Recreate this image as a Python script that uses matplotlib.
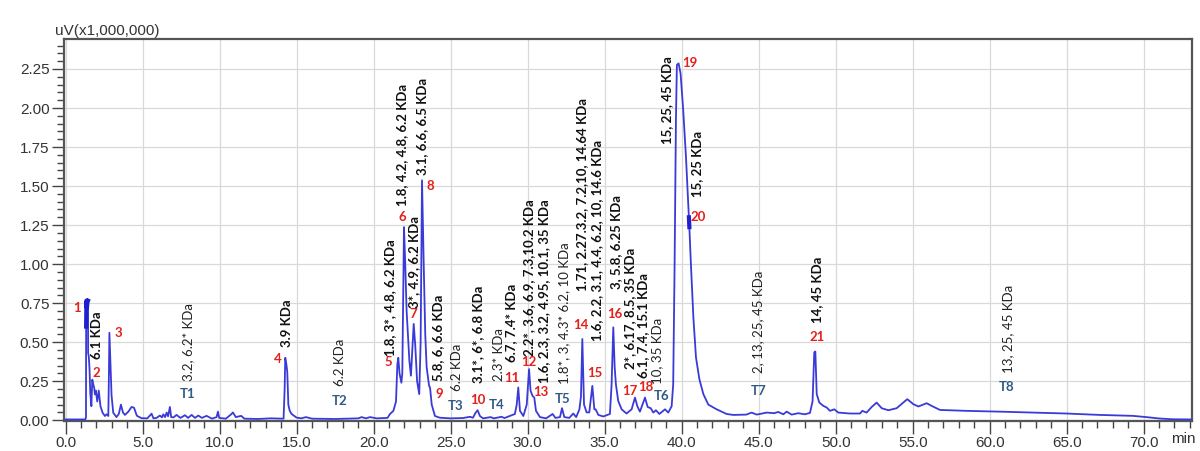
import numpy as np
import matplotlib
matplotlib.use("Agg")
import matplotlib.pyplot as plt
from matplotlib.ticker import MultipleLocator, FormatStrFormatter

# chromatogram trace (retention time in min, signal in uV x 1e6)
rt = [0.0, 1.28, 1.32, 1.33, 1.35, 1.38, 1.42, 1.45, 1.46, 1.50, 1.55, 1.60, 1.67, 1.73,
      1.79, 1.85, 1.90, 1.96, 2.05, 2.15, 2.26, 2.40, 2.55, 2.66, 2.77, 2.81, 2.84, 2.88,
      2.92, 2.98, 3.09, 3.30, 3.45, 3.59, 3.72, 3.85, 4.07, 4.28, 4.44, 4.61, 4.65, 4.93,
      5.3, 5.58, 5.7, 5.9, 6.12, 6.25, 6.34, 6.45, 6.56, 6.65, 6.77, 6.85, 7.0, 7.2, 7.45,
      7.75, 7.95, 8.18, 8.4, 8.61, 8.85, 9.15, 9.5, 9.8, 9.89, 9.97, 10.4, 10.75, 10.86,
      11.05, 11.4, 11.6, 12.5, 13.3, 14.15, 14.22, 14.26, 14.33, 14.39, 14.46, 14.55, 14.67,
      14.99, 15.3, 15.6, 16.0, 17.5, 19.0, 19.22, 19.5, 19.76, 20.2, 20.9, 21.06, 21.28,
      21.45, 21.54, 21.6, 21.68, 21.8, 21.86, 21.97, 22.05, 22.14, 22.32, 22.42, 22.6, 22.7,
      22.82, 22.96, 23.05, 23.14, 23.25, 23.35, 23.44, 23.6, 23.66, 23.77, 23.98, 24.3, 25.0,
      25.8, 26.25, 26.45, 26.6, 26.75, 26.9, 27.1, 27.6, 27.8, 28.3, 28.5, 29.17, 29.29,
      29.39, 29.5, 29.72, 29.94, 30.09, 30.19, 30.32, 30.43, 30.54, 30.8, 31.2, 31.62, 31.8,
      32.1, 32.23, 32.38, 32.7, 32.96, 33.15, 33.36, 33.46, 33.55, 33.66, 33.83, 34.0, 34.2,
      34.33, 34.41, 34.59, 34.91, 35.34, 35.45, 35.56, 35.65, 35.73, 35.88, 36.1, 36.42,
      36.75, 36.97, 37.12, 37.29, 37.62, 37.79, 37.99, 38.16, 38.33, 38.55, 38.92, 39.13,
      39.35, 39.45, 39.54, 39.63, 39.69, 39.8, 39.93, 40.1, 40.28, 40.43, 40.47, 40.5, 40.6,
      40.76, 40.93, 41.15, 41.41, 41.73, 42.27, 42.92, 43.35, 44.2, 44.54, 44.87, 45.52, 46.0,
      46.27, 46.6, 46.82, 47.14, 47.57, 48.0, 48.33, 48.5, 48.61, 48.68, 48.77, 48.94, 49.2,
      49.42, 49.63, 49.91, 50.17, 50.93, 51.58, 51.73, 52.01, 52.34, 52.66, 52.99, 53.42,
      53.96, 54.39, 54.65, 55.04, 55.37, 55.91, 56.23, 56.77, 58.5, 60.66, 62.8, 64.98,
      67.14, 69.3, 70.17, 71.03, 71.9, 73.2]
signal = [0.005, 0.005, 0.02, 0.60, 0.766, 0.72, 0.76, 0.766, 0.43, 0.41, 0.33, 0.17, 0.09, 0.26,
          0.23, 0.21, 0.165, 0.19, 0.12, 0.19, 0.09, 0.048, 0.027, 0.038, 0.027, 0.30, 0.56, 0.45,
          0.33, 0.16, 0.048, 0.02, 0.04, 0.10, 0.05, 0.034, 0.055, 0.085, 0.08, 0.032, 0.027, 0.013,
          0.012, 0.042, 0.012, 0.015, 0.03, 0.018, 0.038, 0.02, 0.049, 0.025, 0.085, 0.02, 0.018, 0.034, 0.015,
          0.032, 0.015, 0.034, 0.015, 0.03, 0.015, 0.028, 0.01, 0.02, 0.055, 0.015, 0.01, 0.038, 0.05,
          0.02, 0.028, 0.01, 0.008, 0.012, 0.01, 0.2, 0.40, 0.36, 0.31, 0.10, 0.06, 0.04,
          0.017, 0.012, 0.02, 0.01, 0.008, 0.012, 0.02, 0.012, 0.02, 0.012, 0.015, 0.04, 0.06,
          0.12, 0.36, 0.40, 0.30, 0.24, 0.30, 1.237, 1.0, 0.70, 0.38, 0.285, 0.617, 0.48,
          0.25, 0.167, 0.5, 1.537, 1.0, 0.55, 0.34, 0.22, 0.21, 0.10, 0.027, 0.016, 0.012,
          0.014, 0.022, 0.016, 0.045, 0.064, 0.027, 0.012, 0.02, 0.012, 0.022, 0.014, 0.04, 0.10,
          0.21, 0.06, 0.027, 0.10, 0.327, 0.188, 0.156, 0.145, 0.06, 0.02, 0.012, 0.04, 0.015,
          0.02, 0.077, 0.02, 0.015, 0.043, 0.02, 0.07, 0.15, 0.52, 0.10, 0.05, 0.05, 0.22,
          0.07, 0.07, 0.034, 0.024, 0.04, 0.23, 0.595, 0.34, 0.23, 0.124, 0.07, 0.043,
          0.07, 0.145, 0.09, 0.055, 0.145, 0.085, 0.077, 0.049, 0.064, 0.04, 0.07, 0.049,
          0.09, 0.23, 0.98, 1.94, 2.276, 2.286, 2.22, 1.986, 1.686, 1.387, 1.30, 1.237, 1.0,
          0.66, 0.402, 0.263, 0.167, 0.10, 0.07, 0.04, 0.034, 0.036, 0.049, 0.036, 0.049, 0.045,
          0.053, 0.038, 0.055, 0.036, 0.045, 0.038, 0.047, 0.12, 0.434, 0.44, 0.167, 0.113, 0.092,
          0.081, 0.06, 0.07, 0.049, 0.043, 0.043, 0.06, 0.049, 0.085, 0.113, 0.077, 0.064,
          0.077, 0.113, 0.135, 0.103, 0.088, 0.109, 0.092, 0.066, 0.06, 0.055, 0.049, 0.043,
          0.034, 0.028, 0.02, 0.011, 0.006, 0.005]

# peak numbers (red)
peak_ids = [str(i) for i in range(1, 22)]
peak_xy = [(0.72, 0.72), (2.02, 0.30), (3.44, 0.56), (13.8, 0.39), (20.97, 0.37),
           (21.85, 1.30), (22.6, 0.68), (23.68, 1.50), (24.24, 0.17), (26.75, 0.13),
           (28.97, 0.27), (30.05, 0.375), (30.88, 0.18), (33.43, 0.61), (34.35, 0.305),
           (35.65, 0.68), (36.64, 0.19), (37.65, 0.21), (40.54, 2.29), (41.1, 1.305),
           (48.8, 0.53)]

# fraction labels (steel blue)
frac_ids = ['T1', 'T2', 'T3', 'T4', 'T5', 'T6', 'T7', 'T8']
frac_xy = [(7.9, 0.167), (17.77, 0.124), (25.32, 0.092), (27.99, 0.10),
           (32.27, 0.135), (38.7, 0.156), (44.98, 0.19), (61.1, 0.21)]

# molecular weight labels (vertical)
kda_text = ['6.1 KDa', '3.2, 6.2* KDa', '3.9 KDa', '6.2 KDa', '1.8, 3*, 4.8, 6.2 KDa',
            '1.8, 4.2, 4.8, 6.2 KDa', '3*, 4.9, 6.2 KDa', '3.1, 6.6, 6.5 KDa',
            '5.8, 6, 6.6 KDa', '6.2 KDa', '3.1*, 6*, 6.8 KDa', '2.3* KDa', '6.7, 7.4* KDa',
            '2.2*, 3.6, 6.9, 7.3,10.2 KDa', '1.6, 2.3, 3.2, 4.95, 10.1, 35 KDa',
            '1.8*, 3, 4.3* 6.2, 10 KDa', '1.71, 2.27.3.2, 7.2,10, 14.64 KDa',
            '1.6, 2.2, 3.1, 4.4, 6.2, 10, 14.6 KDa', '3, 5.8, 6.25 KDa',
            '2*, 6.17, 8.5, 35 KDa', '6.1, 7.4, 15.1 KDa', '10, 35 KDa', '15, 25, 45 KDa',
            '15, 25 KDa', '2, 13, 25, 45 KDa', '14, 45 KDa', '13, 25, 45 KDa']
kda_bold = [True, False, True, False, True, True, True, True, True, False, True, False, True,
            True, True, False, True, True, True, True, True, False, True, True, False, True, False]
kda_xy = [(2.01, 0.39), (7.94, 0.25), (14.39, 0.466), (17.81, 0.22), (21.06, 0.41),
          (21.82, 1.37), (22.62, 0.72), (23.14, 1.57), (24.18, 0.25), (25.39, 0.19),
          (26.75, 0.24), (28.16, 0.25), (28.92, 0.37), (30.1, 0.41), (31.06, 0.24),
          (32.36, 0.23), (33.51, 0.83), (34.48, 0.51), (35.73, 0.84), (36.64, 0.33),
          (37.51, 0.27), (38.42, 0.23), (39.03, 1.77), (40.97, 1.43), (44.97, 0.30),
          (48.77, 0.62), (61.21, 0.30)]

lbl_font = ['Lato', 'DejaVu Sans']
tick_font = ['Liberation Sans', 'DejaVu Sans']

fig = plt.figure(figsize=(12, 4.51), dpi=100)
ax = fig.add_axes([0.0533, 0.0665, 0.9398, 0.8463])

ax.plot(rt, signal, color='#3a3ad8', lw=1.3, zorder=3)
# little integration marks at peak 1 and peak 20
rt_a = np.array(rt)
sig_a = np.array(signal)
for lo, hi in [(1.33, 1.45), (40.47, 40.5)]:
    m = (rt_a >= lo) & (rt_a <= hi)
    ax.plot(rt_a[m], sig_a[m], color='#1f1fd0', lw=3, zorder=3)

ax.set_xlim(-0.11, 73.12)
ax.set_ylim(-0.005, 2.44)
ax.xaxis.set_major_locator(MultipleLocator(5))
ax.xaxis.set_minor_locator(MultipleLocator(1))
ax.yaxis.set_major_locator(MultipleLocator(0.25))
ax.yaxis.set_minor_locator(MultipleLocator(0.05))
ax.xaxis.set_major_formatter(FormatStrFormatter('%.1f'))
ax.yaxis.set_major_formatter(FormatStrFormatter('%.2f'))
ax.grid(True, which='major', color='#d9d9d9', lw=0.9, zorder=0)
ax.tick_params(which='major', length=9, width=1, color='#444444', pad=1.5,
               labelsize=11, labelcolor='#333333')
ax.tick_params(which='minor', length=5, width=1, color='#444444')
for lab in ax.get_xticklabels() + ax.get_yticklabels():
    lab.set_family(tick_font)
for sp in ax.spines.values():
    sp.set_color('#555555')
    sp.set_linewidth(1.6)

ax.text(-0.008, 1.004, 'uV(x1,000,000)', transform=ax.transAxes, ha='left', va='bottom',
        fontsize=11, color='#333333', family=tick_font)
ax.annotate('min', xy=(72.55, 0), xycoords=('data', 'axes fraction'), xytext=(0, -8.2),
            textcoords='offset points', ha='center', va='top', fontsize=11,
            color='#333333', family=tick_font)

for s, (x, y) in zip(peak_ids, peak_xy):
    ax.text(x, y, s, color='#e3201b', fontsize=9.5, fontweight='bold', ha='center',
            va='center', family=lbl_font, zorder=4)
for s, (x, y) in zip(frac_ids, frac_xy):
    ax.text(x, y, s, color='#2e5a87', fontsize=9.5, fontweight='bold', ha='center',
            va='center', family=lbl_font, zorder=4)
for s, (x, y), b in zip(kda_text, kda_xy, kda_bold):
    ax.text(x, y, s, rotation=90, ha='center', va='bottom', fontsize=9.5,
            fontweight='bold' if b else 'normal', color='#111111' if b else '#222222',
            family=lbl_font, zorder=4)

fig.savefig('out.png', dpi=100)
